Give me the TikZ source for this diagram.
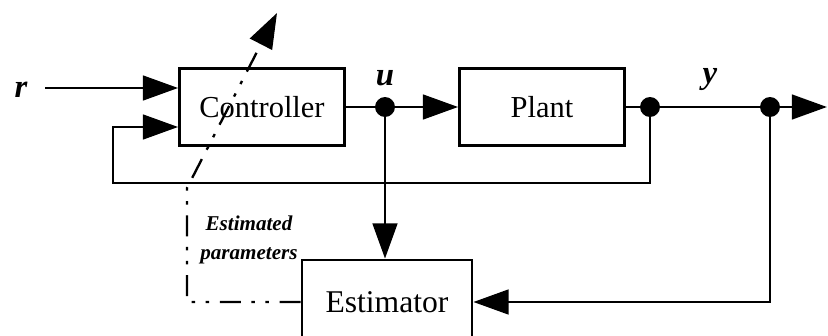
\documentclass[tikz,border=0pt]{standalone}
\usepackage{fontspec}
\setmainfont{Liberation Serif}
\usetikzlibrary{arrows.meta,positioning}

\tikzset{
  block/.style={draw,line width=2.4pt,minimum width=4.95cm,minimum height=2.31cm,
    font=\fontsize{26}{30}\selectfont},
  sig/.style={line width=2.4pt},
  arr/.style={sig,-{Triangle[length=30pt,width=21pt]}},
  dot/.style={circle,fill,inner sep=0pt,minimum size=17pt},
  lab/.style={font=\fontsize{28}{30}\selectfont\bfseries\itshape},
  estline/.style={line width=2pt,dash pattern=on 18pt off 9pt on 3pt off 9pt on 3pt off 9pt}
}

\begin{document}
\begin{tikzpicture}[x=0.03cm,y=-0.03cm]
\useasboundingbox (0,0) rectangle (828,336);
% blocks
\node[block] (ctrl) at (262,107) {Controller};
\node[block] (plant) at (542,107) {Plant};
\node[block,minimum width=5.1cm,minimum height=2.52cm,font=\fontsize{27}{30}\selectfont]
  (estim) at (387,302) {Estimator};
% junctions
\node[dot] (u) at (385,107) {};
\node[dot] (ya) at (650,107) {};
\node[dot] (yb) at (770,107) {};
\coordinate (rin) at (45,88);
\coordinate (out) at (827,107);
\coordinate (fbl) at (113,183);
\coordinate (fbin) at (113,127);
\coordinate (pc) at (187,188);
\coordinate (ptip) at (277,13);
% labels
\node[lab] (r) at (21,90) {r};
\node[lab] (ul) at (385,78) {u};
\node[lab] (yl) at (710,80) {y};
\node[font=\fontsize{18}{25}\selectfont\bfseries\itshape,align=center] (epar) at (249,240)
  {Estimated\\parameters};
% signals
\draw[arr] (rin) -- (rin -| ctrl.west);
\draw[sig] (ctrl.east |- u) -- (u);
\draw[arr] (u) -- (plant.west |- u);
\draw[sig] (plant.east |- ya) -- (ya) -- (yb);
\draw[arr] (yb) -- (out);
\draw[arr] (ya) |- (fbl) -- (fbin) -- (fbin -| ctrl.west);
\draw[arr] (u) -- (u |- estim.north);
\draw[arr] (yb) |- (estim.east);
% parameter update
\draw[estline,-{Triangle[length=30pt,width=21pt]}] (estim.west) -| (pc) -- (ptip);
\end{tikzpicture}
\end{document}
